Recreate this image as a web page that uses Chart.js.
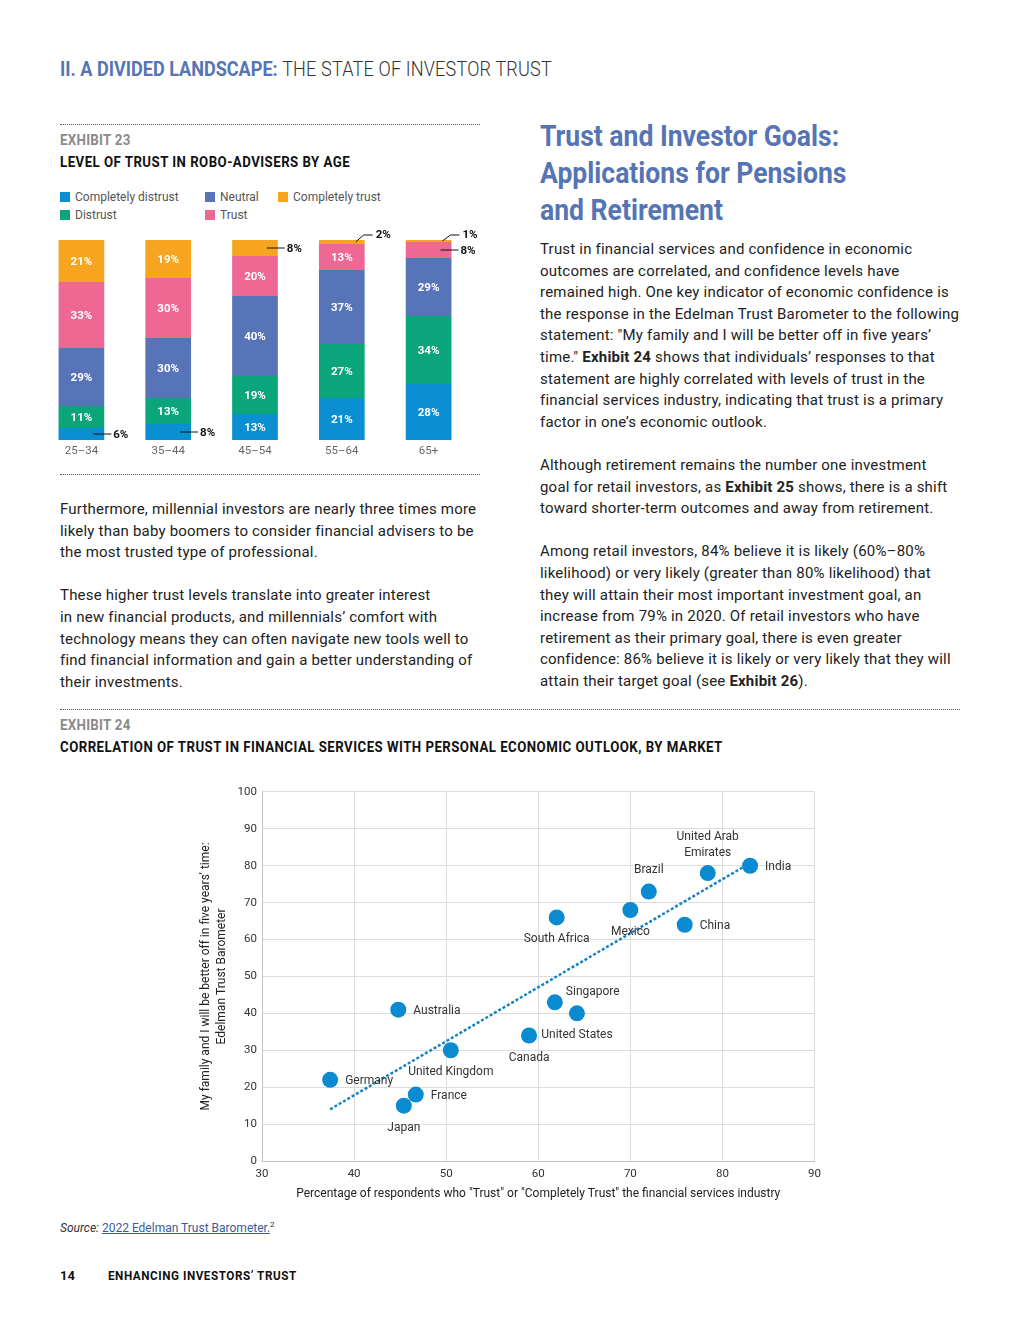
<!DOCTYPE html>
<html>
<head>
<meta charset="utf-8">
<script src="https://cdn.jsdelivr.net/npm/chart.js@4.4.0/dist/chart.umd.min.js"></script>
<style>
  body { margin:0; background:#fff; font-family: Roboto, "Noto Sans", sans-serif; color:#222; }
  .page { position:relative; width:1020px; height:1320px; overflow:hidden; }
  .abs { position:absolute; white-space:nowrap; transform-origin: left top; }
  .dots { position:absolute; height:0; border-top:1px dotted #555; }
  .hdr { left:60px; top:56px; font-size:21px; line-height:26px; transform: scaleX(0.86); }
  .hdr b { color:#5674b4; }
  .hdr span { color:#333; font-weight:300; letter-spacing:0.2px; }
  .exh { font-weight:bold; color:#8a8a8a; font-size:14px; letter-spacing:0.3px; transform: scaleX(0.95); }
  .ttl { font-weight:bold; color:#111; font-size:14px; letter-spacing:0.5px; transform: scaleX(0.945); }
  .body { font-size:15px; line-height:21.6px; color:#222; letter-spacing:0.2px; }
  .h2 { left:540px; top:118px; font-size:29px; line-height:37px; font-weight:bold; color:#5674b4; transform: scaleX(0.915); }
  .legend { position:absolute; left:60px; top:190px; font-size:12px; color:#555; }
  .legend .it { position:absolute; white-space:nowrap; }
  .legend .sw { display:inline-block; width:10px; height:10px; vertical-align:-1px; margin-right:5px; }
  canvas { position:absolute; }
</style>
</head>
<body>
<div class="page">
  <div class="abs hdr"><b>II. A DIVIDED LANDSCAPE:</b> <span>THE STATE OF INVESTOR TRUST</span></div>

  <div class="dots" style="left:60px; top:124px; width:420px;"></div>
  <div class="abs exh" style="left:60px; top:132px;">EXHIBIT 23</div>
  <div class="abs ttl" style="left:60px; top:154px;">LEVEL OF TRUST IN ROBO-ADVISERS BY AGE</div>
  <div class="legend" id="legend"></div>
  <canvas id="barChart" style="left:38px; top:225px; width:452px; height:235px;"></canvas>
  <div class="dots" style="left:60px; top:474px; width:420px;"></div>

  <div class="abs body" style="left:60px; top:499px;">Furthermore, millennial investors are nearly three times more<br>likely than baby boomers to consider financial advisers to be<br>the most trusted type of professional.<br><br>These higher trust levels translate into greater interest<br>in new financial products, and millennials’ comfort with<br>technology means they can often navigate new tools well to<br>find financial information and gain a better understanding of<br>their investments.</div>

  <div class="abs h2">Trust and Investor Goals:<br>Applications for Pensions<br>and Retirement</div>

  <div class="abs body" style="left:540px; top:239px;">Trust in financial services and confidence in economic<br>outcomes are correlated, and confidence levels have<br>remained high. One key indicator of economic confidence is<br>the response in the Edelman Trust Barometer to the following<br>statement: "My family and I will be better off in five years’<br>time." <b>Exhibit 24</b> shows that individuals’ responses to that<br>statement are highly correlated with levels of trust in the<br>financial services industry, indicating that trust is a primary<br>factor in one’s economic outlook.<br><br>Although retirement remains the number one investment<br>goal for retail investors, as <b>Exhibit 25</b> shows, there is a shift<br>toward shorter-term outcomes and away from retirement.<br><br>Among retail investors, 84% believe it is likely (60%–80%<br>likelihood) or very likely (greater than 80% likelihood) that<br>they will attain their most important investment goal, an<br>increase from 79% in 2020. Of retail investors who have<br>retirement as their primary goal, there is even greater<br>confidence: 86% believe it is likely or very likely that they will<br>attain their target goal (see <b>Exhibit 26</b>).</div>

  <div class="dots" style="left:60px; top:709px; width:900px;"></div>
  <div class="abs exh" style="left:60px; top:717px;">EXHIBIT 24</div>
  <div class="abs ttl" style="left:60px; top:739px;">CORRELATION OF TRUST IN FINANCIAL SERVICES WITH PERSONAL ECONOMIC OUTLOOK, BY MARKET</div>
  <canvas id="scatterChart" style="left:190px; top:780px; width:637px; height:425px;"></canvas>

  <div class="abs" style="left:60px; top:1220px; font-size:12px; color:#333;"><i>Source:</i> <span style="color:#3a5a9a; text-decoration:underline;">2022 Edelman Trust Barometer.</span><sup style="font-size:8px;">2</sup></div>
  <div class="abs" style="left:60px; top:1268px; font-size:13px; font-weight:bold; color:#111;">14</div>
  <div class="abs" style="left:108px; top:1268px; font-size:13px; font-weight:bold; color:#111; letter-spacing:0.6px; transform: scaleX(0.9);">ENHANCING INVESTORS’ TRUST</div>
</div>

<script>
// exhibit 23 data
const ageGroups = ['25–34', '35–44', '45–54', '55–64', '65+']
const seriesNames = ['Completely distrust', 'Distrust', 'Neutral', 'Trust', 'Completely trust']
const seriesColors = ['#0a8fd2', '#0aa57a', '#5874b8', '#ef6793', '#f7a520']
const completelyDistrust = [6, 8, 13, 21, 28]
const distrust = [11, 13, 19, 27, 34]
const neutral = [29, 30, 40, 37, 29]
const trust = [33, 30, 20, 13, 8]
const completelyTrust = [21, 19, 8, 2, 1]

// exhibit 24 data
const markets = ['Germany', 'Japan', 'France', 'Australia', 'United Kingdom', 'Canada', 'Singapore', 'United States', 'South Africa', 'Mexico', 'Brazil', 'China', 'United Arab Emirates', 'India']
const trustPct = [37.4, 45.4, 46.7, 44.8, 50.5, 59.0, 61.8, 64.2, 62.0, 70.0, 72.0, 75.9, 78.4, 83.0]
const betterOffPct = [22, 15, 18, 41, 30, 34, 43, 40, 66, 68, 73, 64, 78, 80]
const trendX = [37.4, 82.5]
const trendY = [14, 80]
const xTicks = [30, 40, 50, 60, 70, 80, 90]
const yTicks = [0, 10, 20, 30, 40, 50, 60, 70, 80, 90, 100]

// legend, column order like the printed one
let legend = document.getElementById('legend')
let legendPos = [[0, 0], [0, 18], [145, 0], [145, 18], [218, 0]]
let legendHTML = ''
for (let i = 0; i < seriesNames.length; i++) {
    legendHTML += `<span class="it" style="left:${legendPos[i][0]}px; top:${legendPos[i][1]}px;"><span class="sw" style="background:${seriesColors[i]}"></span>${seriesNames[i]}</span>`
}
legend.innerHTML = legendHTML

const barValues = [completelyDistrust, distrust, neutral, trust, completelyTrust]

const barLabels = {
    id: 'barLabels',
    afterDatasetsDraw(chart) {
        const ctx = chart.ctx
        ctx.save()
        ctx.font = 'bold 11.5px Roboto'
        ctx.textBaseline = 'middle'
        chart.data.datasets.forEach((ds, di) => {
            const meta = chart.getDatasetMeta(di)
            meta.data.forEach((bar, i) => {
                const v = ds.data[i]
                const top = Math.min(bar.y, bar.base)
                const bottom = Math.max(bar.y, bar.base)
                const cy = (top + bottom) / 2
                const right = bar.x + bar.width / 2
                if (v >= 11) {
                    ctx.fillStyle = '#fff'
                    ctx.textAlign = 'center'
                    ctx.fillText(v + '%', bar.x, cy + 1)
                } else {
                    ctx.strokeStyle = '#111'
                    ctx.lineWidth = 1
                    ctx.fillStyle = '#111'
                    ctx.textAlign = 'left'
                    ctx.beginPath()
                    if (v <= 2) {
                        ctx.moveTo(right - 9, cy)
                        ctx.lineTo(right - 1, top - 5)
                        ctx.lineTo(right + 8, top - 5)
                        ctx.stroke()
                        ctx.fillText(v + '%', right + 11, top - 5)
                    } else {
                        ctx.moveTo(right - 11, cy)
                        ctx.lineTo(right + 7, cy)
                        ctx.stroke()
                        ctx.fillText(v + '%', right + 9, cy + 1)
                    }
                }
            })
        })
        ctx.restore()
    }
}

new Chart(document.getElementById('barChart').getContext('2d'), {
    type: 'bar',
    data: {
        labels: ageGroups,
        datasets: barValues.map((vals, i) => ({
            label: seriesNames[i],
            data: vals,
            backgroundColor: seriesColors[i],
            borderWidth: 0,
            barPercentage: 0.65,
            categoryPercentage: 0.81
        }))
    },
    options: {
        responsive: false,
        animation: false,
        layout: { padding: { top: 15, right: 18, left: 0, bottom: 0 } },
        plugins: { legend: { display: false }, tooltip: { enabled: false } },
        scales: {
            x: {
                stacked: true,
                grid: { display: false, drawTicks: false },
                border: { display: false },
                ticks: { color: '#666', font: { size: 11.5, family: 'Roboto' }, padding: 4 },
                afterFit: (s) => { s.height = 20 }
            },
            y: { stacked: true, display: false, min: 0, max: 100 }
        }
    },
    plugins: [barLabels]
})

// label placement around each scatter point
const labelPlace = {
    'Germany': 'right', 'Japan': 'below', 'France': 'right', 'Australia': 'right',
    'United Kingdom': 'below', 'Canada': 'below', 'Singapore': 'aboveRight', 'United States': 'below',
    'South Africa': 'below', 'Mexico': 'below', 'Brazil': 'above', 'China': 'right',
    'United Arab Emirates': 'above2', 'India': 'right'
}

const pointLabels = {
    id: 'pointLabels',
    afterDatasetsDraw(chart) {
        const ctx = chart.ctx
        const meta = chart.getDatasetMeta(0)
        ctx.save()
        ctx.font = '12px Roboto'
        ctx.fillStyle = '#333'
        ctx.textBaseline = 'middle'
        meta.data.forEach((pt, i) => {
            const name = markets[i]
            const p = labelPlace[name]
            if (p == 'right') {
                ctx.textAlign = 'left'
                ctx.fillText(name, pt.x + 15, pt.y + 1)
            } else if (p == 'below') {
                ctx.textAlign = 'center'
                ctx.fillText(name, pt.x, pt.y + 22)
            } else if (p == 'above') {
                ctx.textAlign = 'center'
                ctx.fillText(name, pt.x, pt.y - 22)
            } else if (p == 'aboveRight') {
                ctx.textAlign = 'left'
                ctx.fillText(name, pt.x + 11, pt.y - 10)
            } else if (p == 'above2') {
                ctx.textAlign = 'center'
                ctx.fillText('United Arab', pt.x, pt.y - 36)
                ctx.fillText('Emirates', pt.x, pt.y - 20)
            }
        })
        ctx.restore()
    }
}

new Chart(document.getElementById('scatterChart').getContext('2d'), {
    type: 'scatter',
    data: {
        datasets: [{
            label: 'Markets',
            data: trustPct.map((x, i) => ({ x: x, y: betterOffPct[i] })),
            backgroundColor: '#0a8ad0',
            borderWidth: 0,
            pointRadius: 8,
            order: 1
        }, {
            type: 'line',
            label: 'Trend',
            data: trendX.map((x, i) => ({ x: x, y: trendY[i] })),
            borderColor: '#1783c2',
            borderWidth: 2.5,
            borderDash: [3, 2],
            pointRadius: 0,
            fill: false,
            order: 2
        }]
    },
    options: {
        responsive: false,
        animation: false,
        layout: { padding: { top: 10, right: 10, left: 0, bottom: 0 } },
        plugins: { legend: { display: false }, tooltip: { enabled: false } },
        scales: {
            x: {
                type: 'linear',
                min: 30, max: 90,
                afterBuildTicks: (s) => { s.ticks = xTicks.map(v => ({ value: v })) },
                grid: { color: '#dcdcdc', drawTicks: false },
                border: { color: '#c4c4c4' },
                ticks: { color: '#333', font: { size: 11.5, family: 'Roboto' }, padding: 6 },
                title: {
                    display: true,
                    text: 'Percentage of respondents who "Trust" or "Completely Trust" the financial services industry',
                    color: '#222', font: { size: 12, family: 'Roboto' }, padding: { top: 4 }
                },
                afterFit: (s) => { s.height = 44 }
            },
            y: {
                type: 'linear',
                min: 0, max: 100,
                afterBuildTicks: (s) => { s.ticks = yTicks.map(v => ({ value: v })) },
                grid: { color: '#dcdcdc', drawTicks: false },
                border: { color: '#c4c4c4' },
                ticks: { color: '#333', font: { size: 11.5, family: 'Roboto' }, padding: 5 },
                title: {
                    display: true,
                    text: ["My family and I will be better off in five years' time:", 'Edelman Trust Barometer'],
                    color: '#222', font: { size: 12, family: 'Roboto', lineHeight: 1.33 }, padding: { top: 8, bottom: 0 }
                },
                afterFit: (s) => { s.width = 72 }
            }
        }
    },
    plugins: [pointLabels]
})
</script>
</body>
</html>
